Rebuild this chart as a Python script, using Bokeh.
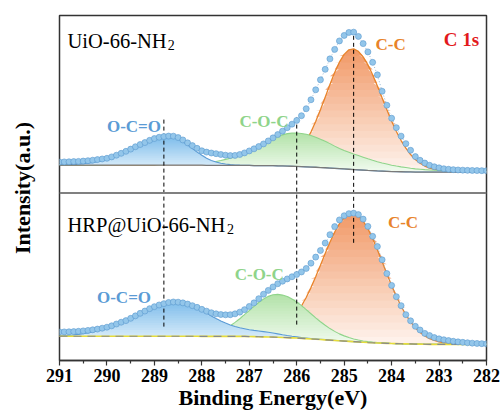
import numpy as np
from bokeh.plotting import figure
from bokeh.models import Range1d, FixedTicker, Span, Label
from bokeh.embed import file_html
from bokeh.resources import INLINE

# ---------------- data ----------------
# binding-energy grid of the spectra, 291.0 -> 282.0 eV, 0.1 eV steps (91 points)
energy = np.round(np.linspace(291.0, 282.0, 91), 1)

tick_values = [291, 290, 289, 288, 287, 286, 285, 284, 283, 282]
minor_tick_values = [290.5, 289.5, 288.5, 287.5, 286.5, 285.5, 284.5, 283.5, 282.5]
peak_positions = [288.8, 286.0, 284.8]   # O-C=O, C-O-C, C-C

# ---- UiO-66-NH2 (upper spectrum) ----
top_background = [28.0]*20 + [28.0] + [27.9]*9 + [27.9] + [27.7]*9 + [
    27.7, 27.4, 27.4, 27.4, 27.4, 27.4, 27.2, 27.1, 27.0, 26.8,
    26.6, 26.4, 26.2, 26.0, 25.8, 25.5, 25.3, 25.0, 24.7, 24.4,
    24.1, 23.8, 23.5, 23.2, 22.9, 22.6, 22.4, 22.1, 21.9, 21.7,
    21.5, 21.4, 21.3, 21.2, 21.1, 21.0, 21.0, 21.0, 21.0, 21.0] + [21.0]*11
top_oco = [
    0.2, 0.3, 0.4, 0.6, 0.9, 1.3, 1.8, 2.4, 3.3, 4.3,
    5.6, 7.1, 8.9, 10.9, 13.1, 15.4, 17.8, 20.2, 22.5, 24.5,
    26.2, 27.5, 28.3, 28.6, 28.0, 26.2, 23.5, 20.2, 16.6, 13.1,
    9.9, 7.1, 4.9, 3.3, 2.1, 1.3, 0.7, 0.4, 0.2, 0.1] + [0.0]*51
top_coc = [
    0.2, 0.2, 0.2, 0.2, 0.2, 0.2, 0.2, 0.2, 0.2, 0.2,
    0.3, 0.3, 0.3, 0.3, 0.3, 0.35, 0.35, 0.4, 0.4, 0.45,
    0.5, 0.55, 0.6, 0.7, 0.8, 0.9, 1.0, 1.2, 1.4, 1.7,
    2.0, 2.5, 3.1, 3.9, 4.8, 6.0, 7.2, 8.9, 10.9, 13.0,
    15.3, 17.8, 20.3, 22.8, 25.3, 27.6, 29.6, 31.2, 32.5, 33.2,
    33.5, 33.3, 32.7, 31.6, 30.2, 28.5, 26.5, 24.5, 22.3, 20.3,
    18.5, 17.0, 15.5, 14.3, 13.0, 11.7, 10.4, 9.3, 8.2, 7.3,
    6.4, 5.6, 4.9, 4.3, 3.7, 3.2, 2.8, 2.4, 2.1, 1.8,
    1.6, 1.4, 1.2, 1.1, 1.0, 0.9, 0.8, 0.7, 0.6, 0.6,
    0.5]
top_cc = [0.0]*40 + [
    0.1, 0.2, 0.3, 0.5, 0.9, 1.4, 2.3, 3.7, 5.8, 8.9,
    13.1, 18.8, 26.1, 35.2, 45.9, 57.9, 70.8, 83.8, 96.1, 106.8,
    114.9, 119.8, 121.0, 118.8, 113.6, 105.9, 96.2, 85.1, 73.4, 61.7,
    50.5, 40.3, 31.3, 23.7, 17.5, 12.5, 8.8, 6.0, 4.0, 2.6,
    1.6, 1.0, 0.6, 0.4, 0.2, 0.1, 0.0, 0.0, 0.0, 0.0,
    0.0]
top_measured = [
    31.0, 31.2, 31.3, 31.5, 31.7, 32.0, 32.4, 32.9, 33.5, 34.1,
    34.8, 36.2, 37.9, 39.8, 41.8, 44.0, 46.4, 48.6, 50.6, 52.8,
    54.6, 55.9, 56.6, 57.1, 57.0, 55.6, 53.2, 50.3, 47.5, 44.8,
    42.3, 41.0, 40.1, 39.4, 38.6, 37.9, 37.5, 37.7, 38.6, 40.2,
    42.2, 44.3, 46.6, 49.2, 52.2, 55.3, 58.6, 62.0, 65.5, 69.0,
    72.8, 77.5, 84.5, 93.5, 103.5, 113.5, 124.0, 134.5, 144.0, 152.5,
    158.0, 161.0, 161.3, 157.0, 149.8, 141.5, 131.0, 118.5, 102.0, 88.0,
    75.0, 65.5, 57.0, 49.5, 42.8, 36.5, 32.8, 30.0, 27.8, 26.3,
    25.2, 24.3, 23.8, 23.4, 23.1, 22.9, 22.7, 22.6, 22.5, 22.4,
    22.3]

# ---- HRP@UiO-66-NH2 (lower spectrum) ----
bot_background = [24.3]*30 + [24.2]*10 + [
    24.0, 23.9, 23.8, 23.7, 23.6, 23.5, 23.3, 23.1, 22.9, 22.7,
    22.5, 22.2, 21.9, 21.6, 21.3, 21.0, 20.7, 20.4, 20.1, 19.8,
    19.5, 19.2, 18.9, 18.6, 18.3, 18.0, 17.8, 17.6, 17.4, 17.2,
    17.0, 16.9, 16.8, 16.7, 16.6, 16.5, 16.4, 16.3, 16.2, 16.2] + [16.2]*11
bot_oco = [
    0.55, 0.8, 1.1, 1.4, 1.9, 2.5, 3.3, 4.2, 5.3, 6.6,
    8.2, 9.9, 11.9, 14.0, 16.3, 18.7, 21.2, 23.7, 26.1, 28.4,
    30.4, 32.2, 33.5, 34.5, 34.9, 34.9, 34.2, 33.0, 31.1, 28.6,
    26.0, 23.3, 20.5, 17.9, 15.5, 13.3, 11.4, 9.9, 8.7, 7.7,
    6.9, 6.3, 5.8, 5.3, 4.7, 4.1, 3.4, 2.7, 2.1, 1.6,
    1.2, 0.9, 0.7, 0.5, 0.4, 0.3, 0.2, 0.1, 0.1, 0.0] + [0.0]*31
bot_coc = [0.0]*20 + [
    0.0, 0.0, 0.0, 0.0, 0.0, 0.1, 0.2, 0.3, 0.5, 0.8,
    1.2, 1.9, 2.8, 4.1, 5.8, 8.0, 10.7, 14.0, 17.7, 21.8,
    26.1, 30.4, 34.4, 37.9, 40.7, 42.4, 43.0, 42.5, 41.2, 39.0,
    36.2, 32.8, 29.1, 25.3, 21.5, 17.9, 14.6, 11.6, 9.1, 6.9,
    5.2, 3.8, 2.7, 1.9, 1.3, 0.9, 0.6, 0.4, 0.3, 0.2,
    0.1] + [0.0]*20
bot_cc = [0.0]*37 + [
    0.1, 0.2, 0.3,
    0.5, 0.8, 1.3, 2.0, 3.1, 4.6, 6.7, 9.6, 13.5, 18.5,
    24.8, 32.4, 41.3, 51.5, 62.7, 74.5, 86.5, 98.1, 108.6, 117.4,
    124.0, 127.8, 128.8, 126.6, 121.6, 114.1, 104.5, 93.5, 81.7, 69.7,
    58.1, 47.3, 37.6, 29.2, 22.1, 16.4, 11.8, 8.4, 5.8, 3.9,
    2.6, 1.6, 1.0, 0.6, 0.4, 0.2, 0.1, 0.0, 0.0, 0.0,
    0.0]
bot_measured = [
    28.6, 28.7, 28.8, 29.0, 29.3, 29.7, 30.2, 30.8, 31.5, 32.4,
    33.4, 34.8, 36.6, 38.4, 40.0, 42.3, 44.8, 47.3, 49.6, 52.0,
    54.0, 55.7, 57.0, 58.2, 58.7, 58.5, 57.8, 56.6, 55.0, 53.3,
    51.3, 49.5, 47.9, 46.8, 46.1, 45.8, 45.9, 46.8, 48.5, 51.0,
    54.2, 57.8, 62.0, 66.5, 70.3, 73.8, 77.0, 79.5, 81.8, 84.0,
    86.3, 88.8, 92.3, 97.6, 103.7, 110.3, 117.8, 126.2, 134.3, 141.0,
    145.2, 147.3, 147.8, 146.3, 141.8, 134.5, 124.5, 114.3, 101.0, 87.2,
    75.3, 64.0, 55.0, 46.0, 39.8, 34.3, 30.6, 27.2, 25.0, 23.0,
    21.7, 20.8, 20.0, 19.3, 18.7, 18.2, 17.8, 17.4, 17.1, 16.9,
    16.7]

# ---------------- styling ----------------
SERIF = "Liberation Serif"
TOP_OFFSET = 168          # vertical offset of the upper spectrum
C_BLUE, C_GREEN, C_ORANGE = "#5b9bd5", "#8fd48a", "#e8832a"
FILLS = {
    "orange": ((241, 152, 102), (254, 244, 238)),
    "green": ((178, 226, 168), (242, 251, 240)),
    "blue": ((125, 188, 235), (233, 245, 252)),
}


def mix(c_bot, c_top, t):
    return "#%02x%02x%02x" % tuple(int(round(a + (b - a) * t)) for a, b in zip(c_bot, c_top))


p = figure(width=503, height=412, output_backend="svg", toolbar_location=None,
           x_range=Range1d(291, 282), y_range=Range1d(0, 346),
           min_border_left=59, min_border_right=17, min_border_top=15, min_border_bottom=51)
p.background_fill_color = "white"
p.border_fill_color = "white"
p.grid.visible = False
p.outline_line_color = "#333333"
p.outline_line_width = 1.5

ax = p.xaxis[0]
ax.ticker = FixedTicker(ticks=tick_values, minor_ticks=minor_tick_values)
ax.axis_line_color = "#333333"
ax.axis_line_width = 1.5
ax.major_tick_in = 0
ax.major_tick_out = 5
ax.minor_tick_in = 0
ax.minor_tick_out = 3
ax.major_tick_line_color = "#333333"
ax.minor_tick_line_color = "#333333"
ax.major_tick_line_width = 1.2
ax.minor_tick_line_width = 1.2
ax.major_label_standoff = 3
ax.major_label_text_font = SERIF
ax.major_label_text_font_style = "bold"
ax.major_label_text_font_size = "18px"
ax.major_label_text_color = "black"
ax.axis_label = "Binding Energy(eV)"
ax.axis_label_text_font = SERIF
ax.axis_label_text_font_style = "bold"
ax.axis_label_text_font_size = "22px"
ax.axis_label_text_color = "black"
ax.axis_label_standoff = 0

ay = p.yaxis[0]
ay.ticker = FixedTicker(ticks=[])
ay.axis_line_color = None
ay.major_tick_out = 0
ay.major_tick_in = 0
ay.minor_tick_out = 0
ay.minor_tick_in = 0
ay.major_label_standoff = 0
ay.axis_label = "Intensity(a.u.)"
ay.axis_label_text_font = SERIF
ay.axis_label_text_font_style = "bold"
ay.axis_label_text_font_size = "22px"
ay.axis_label_text_color = "black"
ay.axis_label_standoff = 25


def gradient_fill(base, curve, key, n=18):
    c_top, c_bot = FILLS[key]
    lo_all, hi_all = base.min(), curve.max()
    step = (hi_all - lo_all) / n
    for k in range(n):
        lo = lo_all + k * step
        hi = lo + step
        y1 = np.maximum(base, lo)
        y2 = np.maximum(y1, np.minimum(curve, hi + 0.8))
        p.varea(x=energy, y1=y1, y2=y2, fill_color=mix(c_bot, c_top, (k + 0.5) / n),
                fill_alpha=1.0)


def draw_spectrum(offset, background, oco, coc, cc, measured, yellow_base):
    base = np.array(background) + offset
    for comp, key, col, lw in ((cc, "orange", C_ORANGE, 1.3),
                               (coc, "green", C_GREEN, 1.1),
                               (oco, "blue", C_BLUE, 1.1)):
        curve = base + np.array(comp)
        gradient_fill(base, curve, key)
        p.line(energy, curve, line_color=col, line_width=lw)
    if yellow_base:
        p.line(energy, base, line_color="#e6dc3a", line_width=1.6)
        p.line(energy, base, line_color="#8a8a8a", line_width=1.2, line_dash="8 6")
    else:
        p.line(energy, base, line_color="#7a7a7a", line_width=1.3)
    return np.array(measured) + offset


top_pts = draw_spectrum(TOP_OFFSET, top_background, top_oco, top_coc, top_cc, top_measured, False)
bot_pts = draw_spectrum(0, bot_background, bot_oco, bot_coc, bot_cc, bot_measured, True)

# panel divider
p.add_layout(Span(location=TOP_OFFSET, dimension="width", line_color="#808080", line_width=1.8))

# dashed peak-position guides
p.segment(x0=peak_positions, y0=[34, 36, 118], x1=peak_positions, y1=[244, 246, 328],
          line_color="black", line_width=1, line_dash="4 3")

# measured points
for pts in (top_pts, bot_pts):
    p.line(energy, pts, line_color="#7fa9cc", line_width=0.8, line_dash="1 2")
    p.scatter(energy, pts, size=6, fill_color="#93c6ea", line_color="#5a98cf", line_width=0.6)


def add_label(x, y, text, size, color="black", bold=False, align="left"):
    p.add_layout(Label(x=x, y=y, text=text, text_font=SERIF, text_font_size=size,
                       text_color=color, text_font_style="bold" if bold else "normal",
                       text_align=align, text_baseline="alphabetic"))


add_label(290.83, 320, "UiO-66-NH", "20.5px")
add_label(288.72, 316, "2", "14px")
add_label(290.83, 136, "HRP@UiO-66-NH", "20.5px")
add_label(287.47, 132, "2", "14px")

add_label(289.43, 235, "O-C=O", "17px", C_BLUE, True, "center")
add_label(286.69, 239.3, "C-O-C", "17px", C_GREEN, True, "center")
add_label(284.02, 317, "C-C", "17px", C_ORANGE, True, "center")
add_label(282.53, 322, "C 1s", "19px", "#e31a1c", True, "center")
add_label(289.64, 63, "O-C=O", "17px", C_BLUE, True, "center")
add_label(286.79, 86, "C-O-C", "17px", C_GREEN, True, "center")
add_label(283.76, 138, "C-C", "17px", C_ORANGE, True, "center")

open("out.html", "w").write(file_html(p, INLINE))
